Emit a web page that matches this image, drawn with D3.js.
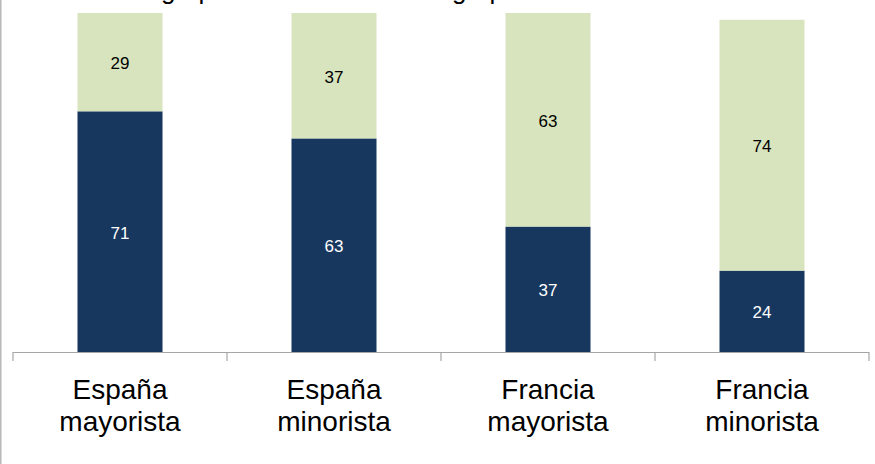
<!DOCTYPE html>
<html><head><meta charset="utf-8">
<script src="https://cdn.jsdelivr.net/npm/d3@7"></script>
<style>body{margin:0;background:#fff}svg{display:block}</style>
</head><body>
<svg id="c" width="875" height="464"></svg>
<script>
const categories = [["España","mayorista"],["España","minorista"],["Francia","mayorista"],["Francia","minorista"]];
const seriesDark = [71, 63, 37, 24];
const seriesLight = [29, 37, 63, 74];
const titleParts = ["Cuota del", "grupo en el total", "del", "grupo en cada canal"];

const svg = d3.select("#c");
const W = 875, H = 464;
const x = d3.scaleBand().domain(d3.range(categories.length)).range([13, 869]).paddingInner(0).paddingOuter(0);
const y = d3.scaleLinear().domain([0, 100]).range([352, 13]);
const bw = 85;
const font = "Arial, 'Liberation Sans', sans-serif";

// left border
svg.append("line").attr("x1",0.75).attr("x2",0.75).attr("y1",0).attr("y2",H).attr("stroke","#b8b8b8").attr("stroke-width",1.5);

// title (cut off at the top, as in the reference)
const tAnch = ["end","start","end","start"];
const tX = [154, 161, 445, 452];
titleParts.forEach((p,i)=>{
  svg.append("text").attr("x",tX[i]).attr("y",-1.5).attr("text-anchor",tAnch[i])
    .attr("font-family",font).attr("font-size",26).attr("fill","#000").text(p);
});

const g = svg.append("g");
categories.forEach((c,i)=>{
  const cx = x(i) + x.bandwidth()/2;
  const d = seriesDark[i], l = seriesLight[i];
  g.append("rect").attr("x",cx-bw/2).attr("width",bw).attr("y",y(d)).attr("height",y(0)-y(d)).attr("fill","#17375E");
  g.append("rect").attr("x",cx-bw/2).attr("width",bw).attr("y",y(d+l)).attr("height",y(d)-y(d+l)).attr("fill","#D7E4BD");
  g.append("text").attr("x",cx).attr("y",(y(0)+y(d))/2 + 1).attr("dy","0.35em").attr("text-anchor","middle")
    .attr("font-family",font).attr("font-size",17).attr("fill","#fff").text(d);
  g.append("text").attr("x",cx).attr("y",(y(d)+y(d+l))/2 + 1).attr("dy","0.35em").attr("text-anchor","middle")
    .attr("font-family",font).attr("font-size",17).attr("fill","#000").text(l);
});

// x axis
const ax = svg.append("g");
ax.append("line").attr("x1",13).attr("x2",869).attr("y1",352.5).attr("y2",352.5).attr("stroke","#a6a6a6").attr("stroke-width",1.2);
const ticks = d3.range(categories.length+1).map(i => i < categories.length ? x(i) : x(i-1)+x.bandwidth());
ticks.forEach(t=>{
  ax.append("line").attr("x1",t).attr("x2",t).attr("y1",352).attr("y2",361).attr("stroke","#a6a6a6").attr("stroke-width",1.2);
});
categories.forEach((c,i)=>{
  const cx = x(i) + x.bandwidth()/2;
  const t = ax.append("text").attr("text-anchor","middle").attr("font-family",font).attr("font-size",28).attr("fill","#000");
  c.forEach((line,j)=>{
    t.append("tspan").attr("x",cx).attr("y",399 + j*32).text(line);
  });
});
</script>
</body></html>
